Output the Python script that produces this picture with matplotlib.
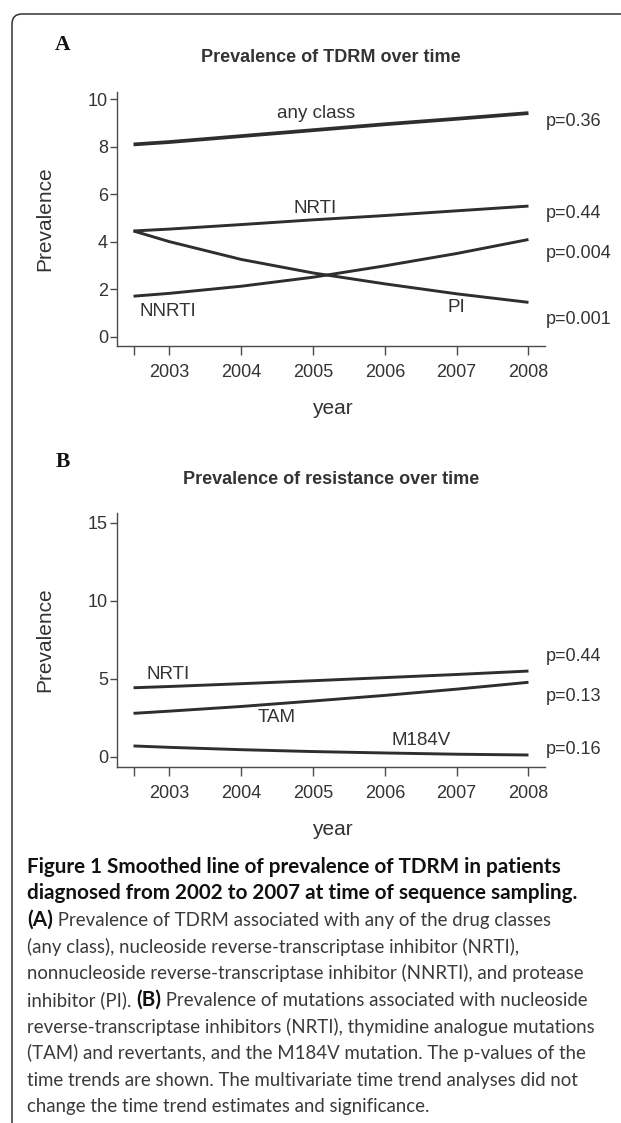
import matplotlib
matplotlib.use("Agg")
import matplotlib.pyplot as plt
from matplotlib.patches import FancyBboxPatch
from matplotlib.transforms import IdentityTransform

W, H = 621, 1123

# data
years = [2002.5, 2003, 2004, 2005, 2006, 2007, 2008]
tick_years = [2002.5, 2003, 2004, 2005, 2006, 2007, 2008]
tick_labels = ["", "2003", "2004", "2005", "2006", "2007", "2008"]

a_any = [8.10, 8.20, 8.45, 8.70, 8.95, 9.18, 9.42]
a_nrti = [4.45, 4.53, 4.72, 4.92, 5.10, 5.30, 5.50]
a_nnrti = [1.70, 1.82, 2.12, 2.50, 2.98, 3.50, 4.09]
a_pi = [4.45, 4.00, 3.25, 2.68, 2.22, 1.80, 1.44]
a_pvals = ["p=0.36", "p=0.44", "p=0.004", "p=0.001"]

b_nrti = [4.42, 4.50, 4.68, 4.87, 5.07, 5.27, 5.49]
b_tam = [2.78, 2.92, 3.22, 3.57, 3.93, 4.33, 4.77]
b_m184v = [0.69, 0.60, 0.45, 0.33, 0.24, 0.16, 0.11]
b_pvals = ["p=0.44", "p=0.13", "p=0.16"]

caption = [
    ("Figure 1 Smoothed line of prevalence of TDRM in patients", True),
    ("diagnosed from 2002 to 2007 at time of sequence sampling.", True),
    ([("(A)", True), (" Prevalence of TDRM associated with any of the drug classes", False)], None),
    ("(any class), nucleoside reverse-transcriptase inhibitor (NRTI),", False),
    ("nonnucleoside reverse-transcriptase inhibitor (NNRTI), and protease", False),
    ([("inhibitor (PI). ", False), ("(B)", True), (" Prevalence of mutations associated with nucleoside", False)], None),
    ("reverse-transcriptase inhibitors (NRTI), thymidine analogue mutations", False),
    ("(TAM) and revertants, and the M184V mutation. The p-values of the", False),
    ("time trends are shown. The multivariate time trend analyses did not", False),
    ("change the time trend estimates and significance.", False),
]

SANS = "Liberation Sans"
LINE = "#2e2e2e"
AXC = "#4a4a4a"
TXT = "#333333"

fig = plt.figure(figsize=(W / 100, H / 100), dpi=100)


def fx(x):
    return x / W


def fy(y):
    return 1 - y / H


def rect(left, top, right, bottom):
    return [left / W, 1 - bottom / H, (right - left) / W, (bottom - top) / H]


def style_axes(ax):
    for s in ("top", "right"):
        ax.spines[s].set_visible(False)
    for s in ("left", "bottom"):
        ax.spines[s].set_color(AXC)
        ax.spines[s].set_linewidth(1.0)
    ax.set_xticks(tick_years)
    ax.set_xticklabels(tick_labels)
    ax.tick_params(axis="both", colors=AXC, labelcolor=TXT, labelsize=13, width=1.0)
    ax.tick_params(axis="y", length=5, pad=1.5)
    ax.tick_params(axis="x", length=6.5, pad=6.5)
    for lab in ax.get_xticklabels() + ax.get_yticklabels():
        lab.set_fontfamily(SANS)
    ax.set_xlim(2002.27, 2008.23)


# frame around the figure
box = FancyBboxPatch((12, -30), 660, H - 14 + 30, boxstyle="round,pad=0,rounding_size=10",
                     transform=IdentityTransform(), fill=False, edgecolor="#333333", linewidth=1.1)
fig.add_artist(box)

# ---- panel A
axA = fig.add_axes(rect(117, 92, 545, 346))
axA.plot(years, a_any, color=LINE, lw=2.7, solid_capstyle="butt")
axA.plot(years, a_nrti, color=LINE, lw=2.1, solid_capstyle="butt")
axA.plot(years, a_nnrti, color=LINE, lw=2.1, solid_capstyle="butt")
axA.plot(years, a_pi, color=LINE, lw=2.1, solid_capstyle="butt")
axA.set_ylim(-0.40, 10.31)
axA.set_yticks([0, 2, 4, 6, 8, 10])
style_axes(axA)

kw = dict(fontsize=13.5, color=TXT, family=SANS, ha="center", va="center")
axA.text(2005.04, 9.41, "any class", **kw)
axA.text(2005.03, 5.40, "NRTI", **kw)
axA.text(2002.98, 1.04, "NNRTI", **kw)
axA.text(2007.0, 1.23, "PI", **kw)
for lab, y in zip(a_pvals, [9.05, 5.19, 3.50, 0.72]):
    axA.text(2008.24, y, lab, fontsize=13, color=TXT, family=SANS, ha="left", va="center")

# ---- panel B
axB = fig.add_axes(rect(117, 513.3, 545, 766.7))
axB.plot(years, b_nrti, color=LINE, lw=2.1, solid_capstyle="butt")
axB.plot(years, b_tam, color=LINE, lw=2.1, solid_capstyle="butt")
axB.plot(years, b_m184v, color=LINE, lw=2.1, solid_capstyle="butt")
axB.set_ylim(-0.64, 15.6)
axB.set_yticks([0, 5, 10, 15])
style_axes(axB)

axB.text(2002.98, 5.30, "NRTI", **kw)
axB.text(2004.49, 2.52, "TAM", **kw)
axB.text(2006.5, 1.03, "M184V", **kw)
for lab, y in zip(b_pvals, [6.41, 3.85, 0.47]):
    axB.text(2008.24, y, lab, fontsize=13, color=TXT, family=SANS, ha="left", va="center")

# panel letters, titles, axis labels
for letter, y in (("A", 45), ("B", 462)):
    fig.text(fx(63), fy(y), letter, fontsize=15.5, fontweight="bold", family="Liberation Serif",
             ha="center", va="center", color="#111111")
fig.text(fx(331), fy(57), "Prevalence of TDRM over time", fontsize=13, fontweight="bold",
         family=SANS, ha="center", va="center", color=TXT)
fig.text(fx(331), fy(479), "Prevalence of resistance over time", fontsize=13, fontweight="bold",
         family=SANS, ha="center", va="center", color=TXT)
for y in (218.7, 639.7):
    fig.text(fx(45), fy(y), "Prevalence", fontsize=15, family=SANS, rotation=90,
             ha="center", va="center", color=TXT)
for y in (408, 829.3):
    fig.text(fx(332), fy(y), "year", fontsize=15, family=SANS, ha="center", va="center", color=TXT)

# caption
renderer = fig.canvas.get_renderer()
cap_y0, cap_dy = 866.7, 26.67
for i, (content, bold) in enumerate(caption):
    y = fy(cap_y0 + i * cap_dy)
    pieces = [(content, bold)] if isinstance(content, str) else content
    x = fx(27)
    for txt, b in pieces:
        t = fig.text(x, y, txt, fontsize=14.9 if b else 13.4, family="Lato",
                     fontweight="bold" if b else "normal",
                     color="#111111" if b else "#3a3a3a", ha="left", va="center")
        bb = t.get_window_extent(renderer=renderer)
        x = x + bb.width / W

fig.savefig("out.png", dpi=100)
